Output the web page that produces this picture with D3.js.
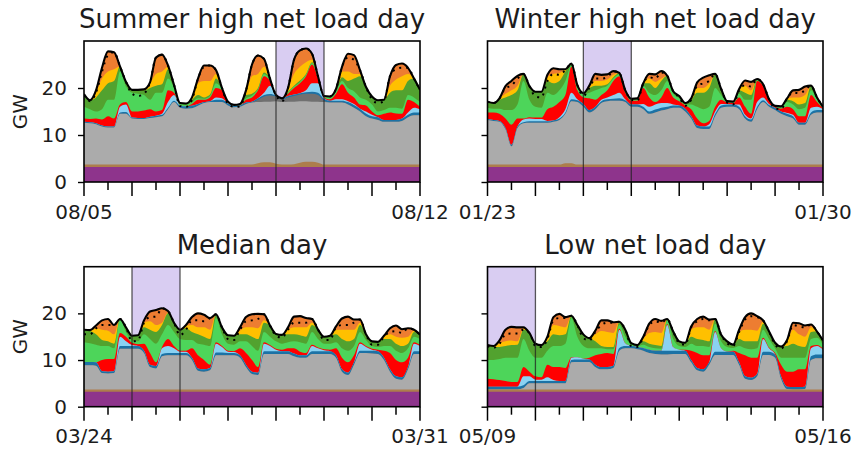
<!DOCTYPE html>
<html>
<head>
<meta charset="utf-8">
<script src="https://cdn.jsdelivr.net/npm/d3@7"></script>
<style>
  body { margin: 0; background: #fff; }
  svg { display: block; }
  text { font-family: "DejaVu Sans", sans-serif; fill: #1c1c1c; }
</style>
</head>
<body>
<svg id="chart" width="853" height="453"></svg>
<script>
// Hourly dispatch for four representative weeks, sampled every 3 hours (GW).
const STEP_HOURS = 3;

const titles = ["Summer high net load day", "Winter high net load day", "Median day", "Low net load day"];
const tickLabels = [["08/05", "08/12"], ["01/23", "01/30"], ["03/24", "03/31"], ["05/09", "05/16"]];
const highlightDay = [4, 2, 1, 0];
const yTicks = [0, 10, 20];

const nuclear = [3.2,3.2,3.2,3.2,3.2,3.2,3.2,3.2,3.2,3.2, 3.2,3.2,3.2,3.2,3.2,3.2,3.2,3.2,3.2,3.2, 3.2,3.2,3.2,3.2,3.2,3.2,3.2,3.2,3.2,3.2, 3.2,3.2,3.2,3.2,3.2,3.2,3.2,3.2,3.2,3.2, 3.2,3.2,3.2,3.2,3.2,3.2,3.2,3.2,3.2,3.2, 3.2,3.2,3.2,3.2,3.2,3.2,3.2];
const flatBiomass = [0.5,0.5,0.5,0.5,0.5,0.5,0.5,0.5,0.5,0.5, 0.5,0.5,0.5,0.5,0.5,0.5,0.5,0.5,0.5,0.5, 0.5,0.5,0.5,0.5,0.5,0.5,0.5,0.5,0.5,0.5, 0.5,0.5,0.5,0.5,0.5,0.5,0.5,0.5,0.5,0.5, 0.5,0.5,0.5,0.5,0.5,0.5,0.5,0.5,0.5,0.5, 0.5,0.5,0.5,0.5,0.5,0.5,0.5];

// Summer week
const summerBiomass = [0.5,0.5,0.5,0.5,0.5,0.5,0.5,0.5,0.5,0.5, 0.5,0.5,0.5,0.5,0.5,0.5,0.5,0.5,0.5,0.5, 0.5,0.5,0.5,0.5,0.5,0.5,0.5,0.5,0.5,0.8, 1.0,1.0,0.7,0.5,0.5,0.6,0.9,1.1,1.1,0.9, 0.5,0.5,0.5,0.5,0.5,0.5,0.5,0.5,0.5,0.5, 0.5,0.5,0.5,0.5,0.5,0.5,0.5];
const summerGasCC = [8.9,8.8,8.6,8.1,7.9,7.9,10.8,10.8,9.8,9.7, 9.7,9.9,10.1,10.3,11.8,13.3,12.1,11.9,12.0,12.5, 13.1,13.3,13.3,13.3,12.6,12.2,12.3,12.9,13.2,13.0, 12.9,12.9,13.3,13.3,13.4,13.3,13.1,12.9,12.8,13.0, 13.3,13.2,13.2,13.2,12.8,12.1,11.3,10.3,9.8,9.5, 9.1,9.1,9.1,9.3,10.1,10.5,10.5];
const summerGasCT = [0,0,0,0,0,0,0,0,0,0, 0,0,0,0,0,0,0,0,0,0, 0,0,0,0,0,0,0,0,0,0.5, 1.1,1.3,1.0,0.6,0.9,1.2,1.4,1.6,1.7,1.4, 0.3,0,0,0,0,0,0,0,0,0, 0,0,0,0,0,0,0];
const summerHydro = [0.2,0.2,0.2,0.2,0.2,0.2,0.3,0.4,0.2,0.2, 0.2,0.3,0.3,0.3,0.3,0.3,0.5,0.5,0.5,0.4, 0.2,0.2,0.5,0.5,0.4,0.3,0.3,0.3,0.2,0.3, 0.3,0.3,0.2,0.2,0.3,0.3,0.3,0.3,0.4,0.5, 0.4,0.4,0.4,0.4,0.5,0.6,0.6,0.6,0.5,0.6, 0.4,0.4,0.4,0.5,0.5,0.6,0.6];
const summerImports = [0,0,0,0,0,0,1.2,1.6,0,0, 0,0,0,0.2,1.2,1.2,0,0,0,0, 0,0,0.5,0.3,0,0,0,0,0,0, 0.5,1.8,0,0,0,0,0,0.4,1.8,2.0, 0.1,0,0.3,0.3,0.2,0.2,0,0.4,0.3,0, 0,0,0,0,0.5,1.0,0.7];
const summerStorage = [0.7,0.7,1.0,1.3,2.2,1.7,0.5,0.5,1.3,1.4, 1.6,1.6,0.9,0.8,2.5,0.5,0,0,0.4,0.9, 0.5,0.8,2.0,1.7,0.1,0,0,0.6,0.9,1.7, 3.5,1.0,0,0,0.5,1.4,2.1,3.0,4.0,1.0, 0.2,0.3,1.2,3.2,1.8,1.4,0.9,1.3,0.7,0.4, 1.3,1.6,1.4,1.0,2.7,1.2,0.5];
const summerWind = [2.5,2.1,1.5,2.2,3.5,4.0,7.0,3.3,4.0,3.8, 3.3,2.0,4.0,3.7,2.5,1.0,0.3,0.3,0.4,0.3, 0.2,0.3,1.0,0.3,0.2,0.1,0.2,0.3,0.4,0.3, 0.5,0.3,0.1,0,0.2,0.3,0.3,0.3,0.3,0.3, 0.2,0.4,0.5,0.7,1.0,1.3,1.5,1.2,1.5,0.8, 0.8,1.0,1.2,1.1,1.0,1.0,1.0];
const summerOffshore = [2.7,1.9,3.0,4.0,3.5,4.0,1.1,1.0,0.6,0.8, 1.0,2.5,1.5,1.8,2.0,0.7,0.2,0.3,0.5,0.7, 0.3,0.3,1.0,0.2,0.1,0.1,0.1,0.7,0.4,0.2, 0.3,0.2,0,0,0.2,0.2,0.3,0.2,0.2,0.2, 0.1,0.2,0.3,0.8,1.5,2.7,4.5,2.7,1.7,2.4, 2.2,3.2,3.7,3.9,3.0,4.0,2.6];
const summerPV = [0,0,1.0,2.5,2.5,2.5,0,0,0,0, 0.2,1.0,2.5,2.7,0.5,0,0,0,0.4,2.5, 3.5,2.9,1.0,0,0,0,0,0.7,3.7,3.0, 1.2,0,0,0,0.6,2.5,2.9,2.5,0.5,0, 0,0,0.2,1.2,2.0,1.0,0.5,0,0,0, 0,1.5,2.3,3.0,1.5,0,0];
const summerRooftop = [0,0,0.5,2.3,4.3,3.6,0,0,0,0, 0,0.2,3.5,3.6,0.3,0,0,0,0.1,1.0, 3.3,3.3,0.8,0,0,0,0,0.3,2.5,3.9, 1.7,0,0,0,0.2,3.0,3.5,2.9,1.3,0, 0,0,0,1.0,3.8,4.0,0.8,0,0,0, 0,2.0,3.1,2.7,1.3,0,0];
const summerDemand = [18.5,17.2,19.0,23.5,27.0,27.6,24.6,21.3,18.8,18.3, 18.8,21.2,26.5,27.1,24.8,20.7,16.2,16.0,17.5,22.0, 24.5,24.8,23.8,20.0,16.6,16.0,16.1,19.5,25.0,26.9, 26.2,22.0,18.5,17.2,20.0,26.0,28.0,28.4,27.3,22.5, 18.3,18.2,19.8,24.5,26.5,26.0,23.8,20.2,17.6,16.8, 17.2,22.5,24.0,24.3,24.3,22.0,19.6];

// Winter week
const winterBiomass = [0.5,0.5,0.5,0.5,0.5,0.5,0.5,0.5,0.5,0.5, 0.5,0.5,0.5,0.8,0.8,0.5,0.5,0.5,0.5,0.5, 0.5,0.5,0.5,0.5,0.5,0.5,0.5,0.5,0.5,0.5, 0.5,0.5,0.5,0.5,0.5,0.5,0.5,0.5,0.5,0.5, 0.5,0.5,0.5,0.5,0.5,0.5,0.5,0.5,0.5,0.5, 0.5,0.5,0.5,0.5,0.5,0.5,0.5];
const winterGasCC = [9.5,9.3,9.1,7.5,3.9,7.8,8.8,8.9,8.9,8.9, 8.9,9.1,9.5,10.5,13.2,13.3,12.3,11.1,11.8,13.1, 13.5,13.6,13.6,13.3,12.3,12.3,11.8,10.8,11.1,11.5, 11.8,12.1,12.1,11.3,9.8,7.8,7.6,7.6,10.3,12.1, 12.3,12.3,11.8,9.8,9.1,11.8,13.3,12.3,11.6,10.8, 10.3,9.8,8.5,8.5,10.6,11.1,11.1];
const winterHydro = [0.2,0.2,0.2,0.3,0.3,0.3,0.2,0.3,0.3,0.3, 0.3,0.3,0.3,0.3,0.4,0.4,0.6,0.5,0.5,0.4, 0.4,0.4,0.5,0.4,0.5,0.5,0.5,0.5,0.6,0.6, 0.5,0.5,0.5,0.6,0.5,0.5,0.5,0.5,0.5,0.5, 0.5,0.5,0.5,0.5,0.5,0.5,0.4,0.4,0.5,0.5, 0.5,0.5,0.4,0.4,0.5,0.5,0.5];
const winterImports = [0,0,0,0,0,0,0.6,0.6,0.5,0.5, 0.1,0,0.3,0.7,1.4,0.2,0,0,0,0.3, 0.4,0.8,1.2,0.2,0,0,0.6,1.0,1.1,1.0, 0.8,0.2,0,0,0,0,0,0.5,0.5,0.3, 0.1,0,0.5,0.3,0.2,1.0,0.6,0.2,0,0, 0.2,0.3,0,0,1.0,0.7,0.2];
const winterStorage = [1.4,1.6,1.5,2.0,4.3,1.7,0.2,0.3,0.3,0.3, 2.5,2.9,3.2,3.0,5.5,1.9,1.4,2.5,1.5,1.0, 1.5,3.0,3.5,1.4,0.8,0.8,3.4,2.0,0.5,1.2, 3.2,1.5,0.9,0.7,1.5,1.5,0.7,0.7,1.0,0.9, 0.3,0.3,1.5,1.7,1.0,4.5,2.5,0.7,0.2,0.6, 1.3,1.2,1.4,1.4,2.7,1.0,0.2];
const winterWind = [1.0,0.8,1.1,1.8,3.1,3.0,8.0,3.7,2.3,2.1, 3.5,2.5,2.5,3.0,0.3,0.7,0.6,1.2,2.0,1.5, 1.0,0.5,0.4,0.3,0.2,0.3,0.5,1.0,1.5,1.5, 1.5,0.8,0.6,0.2,1.0,2.5,3.0,3.0,4.0,1.0, 0.2,0.2,0.8,1.5,3.0,0.2,0.2,0.2,0.1,0.3, 1.0,1.0,1.5,1.8,1.0,0.6,0.2];
const winterOffshore = [1.3,1.2,1.9,2.7,3.2,3.0,1.5,2.9,3.2,3.4, 2.5,2.5,2.0,2.0,0.4,0.4,0.3,1.0,1.0,0.5, 0.3,0.3,0.3,0.2,0.2,0.2,0.5,2.0,1.5,2.0, 1.1,0.5,0.5,0.3,1.0,3.0,3.5,4.0,3.0,1.3, 0.1,0.1,0.7,1.5,1.0,0.2,0.1,0.1,0.1,0.2, 0.5,0.7,1.0,1.0,1.0,0.4,0.1];
const winterPV = [0,0,0.3,0.8,1.0,1.0,0,0,0,0, 0.8,2.0,1.7,0.5,0,0,0,0.3,1.0,1.0, 1.0,0.5,0,0,0,0,0,1.0,1.3,0.5, 0,0,0,0,0.2,1.0,1.0,1.0,0,0, 0,0,0.3,1.5,1.0,0,0,0,0,0, 0.2,0.8,1.5,1.7,0,0,0];
const winterRooftop = [0,0,0,1.6,2.0,2.1,0,0,0,0, 0.5,1.2,0.8,0,0,0,0,0.2,1.5,1.3, 1.1,0.8,0,0,0,0,0,1.0,1.6,1.6, 0,0,0,0,0.1,1.2,2.2,1.7,0,0, 0,0,0,1.1,1.8,0,0,0,0,0, 0.1,1.5,1.6,1.8,0,0,0];
const winterDemand = [17.1,16.8,17.8,20.0,20.5,22.0,23.0,20.4,18.2,18.0, 21.5,23.0,22.8,23.8,25.2,20.6,18.3,20.0,22.0,22.0, 22.3,23.6,23.2,19.5,17.5,17.3,21.0,22.3,22.0,23.3, 22.6,19.3,18.0,16.2,17.5,20.5,21.0,21.5,23.0,19.8, 16.9,16.5,19.5,20.6,20.3,21.9,20.8,17.6,15.6,15.5, 17.8,19.0,18.9,19.5,20.5,18.0,16.0];

// Median week
const medianGasCC = [5.2,5.2,5.1,3.5,3.4,3.5,8.7,8.7,8.7,8.7, 7.8,4.8,4.5,7.1,7.3,7.3,7.3,7.3,6.3,4.0, 3.8,4.1,7.3,7.3,7.3,7.3,6.8,4.8,3.3,3.1, 7.6,7.6,7.6,7.6,7.6,7.1,6.8,6.8,7.6,7.6, 7.6,7.6,6.8,3.8,3.1,5.3,7.8,7.8,7.7,7.6, 6.3,3.8,2.3,2.1,4.3,7.6,7.6];
const medianHydro = [0.7,0.7,0.7,0.4,0.4,0.4,0.6,0.6,0.6,0.6, 0.5,0.5,0.5,0.5,0.5,0.5,0.5,0.5,0.5,0.5, 0.5,0.5,0.6,0.6,0.5,0.5,0.5,0.5,0.5,0.5, 0.6,0.6,0.6,0.6,0.6,0.6,0.5,0.5,0.6,0.6, 0.6,0.6,0.5,0.5,0.5,0.5,0.5,0.5,0.6,0.6, 0.5,0.5,0.5,0.5,0.5,0.6,0.6];
const medianImports = [0,0,0,0,0,0,2.0,1.0,0.2,0, 0,0,0,1.2,1.5,1.0,0.3,0.3,0,0, 0,0,1.9,1.2,0.3,0.2,0,0,0,0, 1.6,1.1,0.3,0,0,0,0,0,1.1,0.6, 0.2,0,0,0,0,0,1.5,0.8,0.2,0, 0,0,0,0,0,1.6,1.1];
const medianStorage = [0,0,0,2.4,2.7,2.6,0.8,1.0,0.5,0.4, 1.5,2.5,0.8,0.3,1.5,0.5,0.2,0.2,2.0,2.8, 2.0,0.7,0.3,0.2,0.2,0.2,1.5,2.5,2.5,1.2, 0.3,0.2,0.2,0.3,0.6,1.1,0.8,0.5,0.3,0.2, 0.2,0.3,1.5,2.5,2.2,1.5,0.3,0.2,0.2,0.3, 1.5,3.5,3.5,3.2,2.0,0.3,0.2];
const medianWind = [4.2,4.0,3.8,3.0,2.8,2.3,3.0,1.0,0.5,0.6, 2.0,3.0,4.0,2.7,3.0,3.0,2.5,2.3,1.8,2.5, 3.3,4.0,5.2,2.5,1.5,1.4,1.5,2.5,3.0,3.5, 2.2,1.8,1.6,1.3,1.3,1.5,2.0,2.0,2.7,1.8, 1.2,1.3,1.3,2.0,2.5,2.0,2.2,1.3,0.6,0.6, 1.0,1.5,2.0,2.0,2.0,1.2,1.3];
const medianOffshore = [2.7,2.6,2.2,1.3,1.0,1.0,0,1.0,1.0,1.3, 1.5,2.0,2.5,2.0,2.5,2.0,2.0,2.5,1.7,2.0, 1.7,1.5,0.8,1.5,1.8,1.9,1.5,1.5,2.0,2.5, 2.0,2.4,1.6,1.9,1.7,1.5,1.5,1.5,1.5,2.0, 1.5,1.7,1.7,2.0,2.0,1.5,1.5,1.2,1.0,1.1, 1.5,1.5,1.5,1.5,1.0,1.0,0.9];
const medianPV = [0,0.2,1.3,2.2,2.3,2.0,0,0,0,0, 1.0,1.8,1.5,0.5,0.2,0,0,0.5,1.5,1.5, 2.0,2.0,0,0,0,0,0.8,1.5,2.0,2.3, 0.5,0,0,0,1.0,1.5,1.7,2.0,0.5,0, 0,0,1.0,2.0,2.5,2.0,0.5,0,0,0, 0.5,1.0,1.5,1.8,1.5,0.3,0];
const medianRooftop = [0,0,0.6,2.0,2.5,2.0,0,0,0,0, 0.5,2.1,3.2,3.1,0.3,0,0,0.2,1.7,3.0, 2.7,2.5,0,0,0,0,0.7,2.2,2.8,3.1, 1.3,0,0,0,0.5,2.3,2.4,2.0,0.8,0, 0,0,0.7,2.4,2.8,2.2,0.7,0,0,0, 0.2,1.3,2.4,1.8,1.8,0.2,0];
const medianDemand = [15.5,15.5,16.8,17.5,17.5,17.5,18.8,17.0,14.0,14.2, 18.0,19.2,19.3,21.1,20.5,18.0,15.3,16.5,18.5,18.5, 18.3,19.0,19.8,17.0,14.5,14.3,16.5,18.3,18.5,18.8, 19.8,17.4,15.2,14.8,16.5,18.0,18.0,18.0,18.8,16.5, 14.3,14.3,17.0,17.5,17.5,18.0,18.7,15.5,13.3,13.3, 15.0,16.0,16.2,15.8,16.8,16.5,15.4];

// Low net load week
const lowGasCC = [0,0,0,0,0,0,0.3,1.3,1.3,1.3, 1.3,1.3,1.3,1.3,5.8,5.9,5.9,5.9,4.8,4.3, 4.3,4.6,8.3,8.8,8.8,8.6,8.3,7.8,7.6,7.5, 7.5,7.6,7.6,7.6,5.8,4.1,3.8,5.3,7.4,7.4, 7.4,7.4,5.3,2.3,2.0,2.8,7.4,7.4,6.8,2.3, 0.1,0,0,0.1,6.3,6.7,6.7];
const lowHydro = [0.6,0.6,0.6,0.6,0.6,0.6,0.6,0.5,0.5,0.5, 0.5,0.5,0.5,0.5,0.5,0.5,0.5,0.5,0.5,0.5, 0.5,0.5,0.6,0.5,0.5,0.5,0.6,0.7,0.7,0.8, 0.8,0.7,0.7,0.7,0.5,0.5,0.5,0.5,0.7,0.7, 0.7,0.7,0.5,0.5,0.5,0.5,0.7,0.7,0.7,0.5, 0.5,0.5,0.5,0.5,0.8,0.8,0.8];
const lowImports = [0,0,0,0,0,0,1.9,1.0,0.3,0.3, 0.8,0.2,0,0,0.5,0.5,0.2,0,0,0, 0,0,3.9,0.6,0,0,0,0,0,0, 5.5,0.8,0.2,0,0,0,0,0,4.2,0.7, 0,0,0,0,0,0,2.7,0.7,0,0, 0,0,0,0,1.7,1.8,1.0];
const lowStorage = [1.7,1.6,1.4,1.2,1.0,1.0,2.0,1.0,0.7,0.5, 2.7,2.8,3.0,2.8,0.1,0,0,0.4,2.0,2.8, 3.0,2.5,0.2,0,0,0,0,0,0,0, 0.2,0,0,0.2,2.0,3.2,3.0,1.5,0.2,0, 0,0.2,2.0,4.5,4.3,3.5,0.3,0.2,0.3,2.5, 3.2,3.3,3.8,3.7,0.5,0.2,0.2];
const lowWind = [4.0,4.1,4.5,5.0,5.2,5.2,6.0,4.5,4.0,4.2, 3.0,4.5,4.5,5.2,8.4,4.4,2.7,2.0,1.5,1.2, 0.8,1.0,0.8,1.4,0.3,0.2,0.7,0.6,0.5,0.4, 0.8,1.7,0.8,0.6,1.5,1.5,2.0,1.8,1.6,1.5, 1.0,0.6,1.5,1.5,1.8,2.0,1.7,1.8,1.0,1.5, 3.0,3.0,2.5,2.5,1.5,1.6,0.9];
const lowOffshore = [3.2,2.8,2.6,2.5,2.7,2.8,2.0,3.8,3.0,2.7, 2.0,2.5,2.3,2.0,0.5,2.5,2.5,2.2,1.5,0.5, 0.5,0.5,0.7,1.5,0.3,0.2,0.7,0.7,0.7,0.6, 0.3,1.6,1.0,0.9,1.5,1.5,1.3,1.2,1.0,1.4, 1.2,0.7,1.5,1.5,1.7,1.5,1.3,1.6,1.2,2.4, 2.5,3.0,2.5,2.3,1.5,1.3,0.9];
const lowPV = [0,0.2,0.8,1.0,1.0,0.7,0.3,0,0,0, 0.5,2.0,2.0,1.5,0,0,0,0,1.5,3.2, 3.2,3.0,0,0,0,0,0.6,2.3,2.8,2.8, 0,0,0,0,1.5,2.5,2.7,2.5,0,0, 0,0,1.5,2.5,2.5,2.3,0.4,0,0,0, 1.0,3.0,2.5,2.2,1.0,0,0];
const lowRooftop = [0,0,0.6,2.5,2.9,3.0,0.2,0,0,0, 0.5,1.7,2.6,2.2,0,0,0,0,0.8,2.3, 2.5,2.3,0,0,0,0,0.4,2.0,2.8,2.6, 0,0,0,0,0.7,1.8,2.3,2.2,0,0, 0,0,0.5,2.7,3.5,3.1,0.3,0,0,0, 0.3,1.5,2.4,2.4,0.6,0,0];
const lowDemand = [13.0,12.6,13.5,15.5,15.7,15.7,16.5,15.8,13.0,12.8, 14.5,18.5,19.0,19.0,19.5,17.5,14.7,14.2,16.0,17.5, 18.0,18.0,18.2,16.5,13.0,12.8,14.8,17.5,18.3,18.0, 18.8,16.1,13.6,13.3,17.0,18.3,18.8,18.5,18.8,15.4, 13.6,13.0,16.0,18.7,19.4,19.2,18.5,16.1,13.3,12.5, 14.0,17.5,17.2,17.0,17.6,16.1,14.2];

// Stack order (bottom to top) and fill colours
const layerOrder = ["nuclear", "biomass", "gasCC", "gasCT", "hydro", "imports", "storage", "wind", "offshore", "pv", "rooftop"];
const layerColor = {
  nuclear: "#8e348c", biomass: "#ad7d4c", gasCC: "#ababab", gasCT: "#707070",
  hydro: "#1c72a5", imports: "#8ad2f2", storage: "#ff0000", wind: "#4dd55a",
  offshore: "#52a22f", pv: "#ffc000", rooftop: "#ed7d31"
};

const weeks = [
  { nuclear, biomass: summerBiomass, gasCC: summerGasCC, gasCT: summerGasCT, hydro: summerHydro, imports: summerImports,
    storage: summerStorage, wind: summerWind, offshore: summerOffshore, pv: summerPV, rooftop: summerRooftop, demand: summerDemand },
  { nuclear, biomass: winterBiomass, gasCC: winterGasCC, hydro: winterHydro, imports: winterImports,
    storage: winterStorage, wind: winterWind, offshore: winterOffshore, pv: winterPV, rooftop: winterRooftop, demand: winterDemand },
  { nuclear, biomass: flatBiomass, gasCC: medianGasCC, hydro: medianHydro, imports: medianImports,
    storage: medianStorage, wind: medianWind, offshore: medianOffshore, pv: medianPV, rooftop: medianRooftop, demand: medianDemand },
  { nuclear, biomass: flatBiomass, gasCC: lowGasCC, hydro: lowHydro, imports: lowImports,
    storage: lowStorage, wind: lowWind, offshore: lowOffshore, pv: lowPV, rooftop: lowRooftop, demand: lowDemand }
];

// Panel frames (plot areas) in pixels
const frames = [
  { left: 84, right: 420, top: 41, bottom: 182 },
  { left: 487.5, right: 823, top: 41, bottom: 182 },
  { left: 84, right: 420, top: 266.7, bottom: 406.7 },
  { left: 487.5, right: 823, top: 266.7, bottom: 406.7 }
];

const svg = d3.select("#chart");
svg.append("rect").attr("width", 853).attr("height", 453).attr("fill", "#fff");

weeks.forEach((week, p) => {
  const f = frames[p];
  const nPts = week.demand.length;
  const spanHours = (nPts - 1) * STEP_HOURS;
  const x = d3.scaleLinear().domain([0, spanHours]).range([f.left, f.right]);
  const y = d3.scaleLinear().domain([0, 30]).range([f.bottom, f.top]);
  const g = svg.append("g");

  const clipId = "clip" + p;
  g.append("clipPath").attr("id", clipId)
    .append("rect").attr("x", f.left).attr("y", f.top)
    .attr("width", f.right - f.left).attr("height", f.bottom - f.top);

  const plot = g.append("g").attr("clip-path", `url(#${clipId})`);

  // highlighted day
  const d0 = highlightDay[p] * 24, d1 = d0 + 24;
  plot.append("rect")
    .attr("x", x(d0)).attr("y", f.top)
    .attr("width", x(d1) - x(d0)).attr("height", f.bottom - f.top)
    .attr("fill", "#9370db").attr("fill-opacity", 0.35);

  const rows = d3.range(nPts).map(i => {
    const r = { h: i * STEP_HOURS };
    layerOrder.forEach(k => { r[k] = week[k] ? week[k][i] : 0; });
    return r;
  });
  const series = d3.stack().keys(layerOrder)(rows);

  // each layer is filled from the axis up to its stacked top, drawn top layer first,
  // so the layers below cover everything underneath without seams
  const area = d3.area()
    .x(d => x(d.data.h)).y0(y(0)).y1(d => y(d[1]))
    .curve(d3.curveMonotoneX);

  plot.selectAll("path.layer").data(series.slice().reverse()).join("path")
    .attr("class", "layer")
    .attr("d", area)
    .attr("fill", s => layerColor[s.key]);

  // total generation outline
  const top = series[series.length - 1];
  plot.append("path")
    .datum(top)
    .attr("d", d3.line().x(d => x(d.data.h)).y(d => y(d[1])).curve(d3.curveMonotoneX))
    .attr("fill", "none").attr("stroke", "#000").attr("stroke-width", 2.1);

  // demand (dotted)
  plot.append("path")
    .datum(week.demand)
    .attr("d", d3.line().x((v, i) => x(i * STEP_HOURS)).y(v => y(v)).curve(d3.curveMonotoneX))
    .attr("fill", "none").attr("stroke", "#000").attr("stroke-width", 2)
    .attr("stroke-dasharray", "2,5");

  // highlighted day edges
  [d0, d1].forEach(h => {
    if (h <= 0 || h >= spanHours) return;
    g.append("line")
      .attr("x1", x(h)).attr("x2", x(h)).attr("y1", f.top).attr("y2", f.bottom)
      .attr("stroke", "#222").attr("stroke-opacity", 0.75).attr("stroke-width", 1.3);
  });

  // frame
  g.append("rect")
    .attr("x", f.left).attr("y", f.top)
    .attr("width", f.right - f.left).attr("height", f.bottom - f.top)
    .attr("fill", "none").attr("stroke", "#000").attr("stroke-width", 1.6);

  // y axis
  const yAxis = d3.axisLeft(y).tickValues(yTicks).tickSize(6).tickPadding(11);
  if (p % 2 === 1) yAxis.tickFormat("");
  const ya = g.append("g").attr("transform", `translate(${f.left},0)`).call(yAxis);
  ya.select(".domain").remove();
  ya.selectAll("line").attr("stroke", "#000").attr("stroke-width", 1.4);
  ya.selectAll("text").attr("font-size", 20).attr("fill", "#1c1c1c")
    .style("font-family", '"DejaVu Sans", sans-serif');

  // x axis: daily major ticks, half-day minor ticks
  const xTicks = d3.range(0, spanHours + 1, 12);
  g.selectAll("line.xt").data(xTicks).join("line")
    .attr("class", "xt")
    .attr("x1", h => x(h)).attr("x2", h => x(h))
    .attr("y1", f.bottom).attr("y2", h => f.bottom + (h % 24 === 0 ? 14 : 8))
    .attr("stroke", "#000").attr("stroke-width", 1.5);

  g.selectAll("text.xl").data([0, spanHours]).join("text")
    .attr("class", "xl")
    .attr("x", h => x(h)).attr("y", f.bottom + 36.5)
    .attr("text-anchor", "middle").attr("font-size", 20)
    .text((h, i) => tickLabels[p][i]);

  // title
  g.append("text")
    .attr("x", (f.left + f.right) / 2).attr("y", f.top - 13)
    .attr("text-anchor", "middle").attr("font-size", 26)
    .text(titles[p]);

  if (p % 2 === 0) {
    const cy = (f.top + f.bottom) / 2;
    g.append("text")
      .attr("transform", `translate(27,${cy}) rotate(-90)`)
      .attr("text-anchor", "middle").attr("font-size", 20)
      .text("GW");
  }
});
</script>
</body>
</html>
